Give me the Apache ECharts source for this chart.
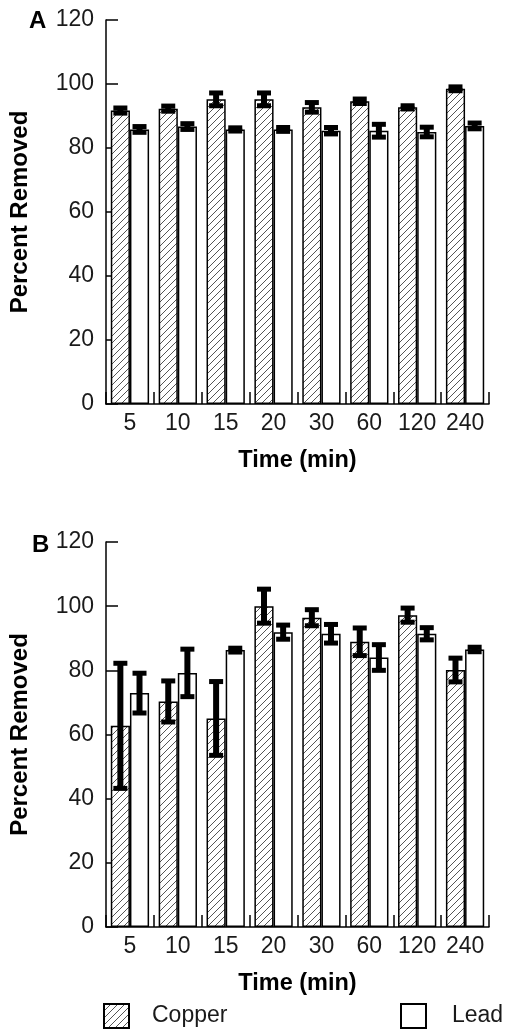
<!DOCTYPE html>
<html>
<head>
<meta charset="utf-8">
<script src="https://cdn.jsdelivr.net/npm/echarts@6/dist/echarts.min.js"></script>
<style>
html,body{margin:0;padding:0;background:#fff;}
#chart{width:515px;height:1034px;}
</style>
</head>
<body>
<div id="chart"></div>
<script>
const categories = ['5', '10', '15', '20', '30', '60', '120', '240'];
const yTickValues = [0, 20, 40, 60, 80, 100, 120];

const copperA = [91.7, 92.3, 95.2, 95.2, 92.7, 94.6, 92.7, 98.5];
const copperAErr = [0.8, 0.8, 2.0, 2.0, 1.5, 0.7, 0.5, 0.6];
const leadA = [85.8, 86.7, 85.8, 85.8, 85.4, 85.4, 85.0, 86.9];
const leadAErr = [0.9, 0.9, 0.5, 0.6, 1.0, 2.0, 1.5, 0.9];

const copperB = [62.7, 70.3, 65.0, 100.0, 96.4, 88.9, 97.2, 80.1];
const copperBErr = [19.5, 6.4, 11.5, 5.3, 2.5, 4.3, 2.2, 3.7];
const leadB = [72.9, 79.2, 86.3, 91.9, 91.4, 84.0, 91.4, 86.5];
const leadBErr = [6.2, 7.4, 0.6, 2.2, 2.9, 4.0, 1.9, 0.7];

function makeHatch() {
  const c = document.createElement('canvas');
  c.width = 7; c.height = 7;
  const ctx = c.getContext('2d');
  ctx.fillStyle = '#ffffff';
  ctx.fillRect(0, 0, 7, 7);
  ctx.strokeStyle = '#555555';
  ctx.lineWidth = 1;
  ctx.beginPath();
  ctx.moveTo(-1, 8); ctx.lineTo(8, -1);
  ctx.moveTo(-1, 1); ctx.lineTo(1, -1);
  ctx.moveTo(6, 8); ctx.lineTo(8, 6);
  ctx.stroke();
  return c;
}
const hatch = { image: makeHatch(), repeat: 'repeat' };

const FONT = 'Liberation Sans, Arial, sans-serif';
const chart = echarts.init(document.getElementById('chart'), null, { renderer: 'canvas' });

function errData(mean, err) {
  return mean.map((m, i) => [i, m - err[i], m + err[i]]);
}

function errSeries(name, gridIdx, data, side) {
  return {
    name: name + ' error',
    type: 'custom',
    xAxisIndex: gridIdx,
    yAxisIndex: gridIdx,
    z: 10,
    silent: true,
    encode: { x: 0, y: [1, 2] },
    data: data,
    renderItem: function (params, api) {
      const idx = api.value(0);
      const band = api.size([1, 0])[0];
      const c = api.coord([idx, 0]);
      const x = c[0] + side * band * 0.2;
      const lo = api.coord([idx, api.value(1)])[1];
      const hi = api.coord([idx, api.value(2)])[1];
      const capW = 14, capT = 5, stemW = 6;
      const style = { fill: '#000' };
      return {
        type: 'group',
        children: [
          { type: 'rect', shape: { x: x - stemW / 2, y: hi, width: stemW, height: lo - hi }, style: style },
          { type: 'rect', shape: { x: x - capW / 2, y: hi - capT / 2, width: capW, height: capT }, style: style },
          { type: 'rect', shape: { x: x - capW / 2, y: lo - capT / 2, width: capW, height: capT }, style: style }
        ]
      };
    }
  };
}

function xAxisDef(gridIdx) {
  return {
    type: 'category',
    gridIndex: gridIdx,
    data: categories,
    boundaryGap: true,
    axisLine: { show: true, lineStyle: { color: '#000', width: 1.5 } },
    axisTick: { show: true, inside: true, length: 12, alignWithLabel: false, lineStyle: { color: '#000', width: 1.5 } },
    axisLabel: { color: '#1a1a1a', fontSize: 23, fontFamily: FONT, margin: 8, interval: 0 },
    name: 'Time (min)',
    nameLocation: 'middle',
    nameGap: 45,
    nameTextStyle: { color: '#000', fontSize: 23.5, fontWeight: 'bold', fontFamily: FONT },
    splitLine: { show: false }
  };
}

function yAxisDef(gridIdx) {
  return {
    type: 'value',
    gridIndex: gridIdx,
    min: yTickValues[0],
    max: yTickValues[yTickValues.length - 1],
    interval: 20,
    axisLine: { show: true, lineStyle: { color: '#000', width: 1.5 } },
    axisTick: { show: true, inside: true, length: 12, lineStyle: { color: '#000', width: 1.5 } },
    axisLabel: { color: '#1a1a1a', fontSize: 23, fontFamily: FONT, margin: 12 },
    splitLine: { show: false },
    name: 'Percent Removed',
    nameLocation: 'middle',
    nameGap: 74,
    nameTextStyle: { color: '#000', fontSize: 24, fontWeight: 'bold', fontFamily: FONT }
  };
}

function barSeries(name, gridIdx, data, color) {
  return {
    name: name,
    type: 'bar',
    xAxisIndex: gridIdx,
    yAxisIndex: gridIdx,
    data: data,
    barGap: '0%',
    barCategoryGap: '20%',
    itemStyle: { color: color, borderColor: '#000', borderWidth: 1.5 },
    emphasis: { disabled: true },
    z: 2
  };
}

const option = {
  backgroundColor: '#ffffff',
  animation: false,
  title: [
    { text: 'A', left: 24, top: 4, textStyle: { fontSize: 24, fontWeight: 'bold', color: '#000', fontFamily: FONT } },
    { text: 'B', left: 27, top: 528, textStyle: { fontSize: 24, fontWeight: 'bold', color: '#000', fontFamily: FONT } }
  ],
  legend: [
    {
      data: [{ name: 'Copper', icon: 'rect' }], left: 98, top: 998, itemWidth: 25, itemHeight: 24, selectedMode: false,
      textStyle: { fontSize: 23, color: '#1a1a1a', fontFamily: FONT, padding: [0, 0, 0, 18] }
    },
    {
      data: [{ name: 'Lead', icon: 'rect' }], left: 395, top: 998, itemWidth: 25, itemHeight: 24, selectedMode: false,
      textStyle: { fontSize: 23, color: '#1a1a1a', fontFamily: FONT, padding: [0, 0, 0, 21] }
    }
  ],
  grid: [
    { left: 105, width: 384, top: 20, height: 384 },
    { left: 105, width: 384, top: 542, height: 385 }
  ],
  xAxis: [xAxisDef(0), xAxisDef(1)],
  yAxis: [yAxisDef(0), yAxisDef(1)],
  series: [
    barSeries('Copper', 0, copperA, hatch),
    barSeries('Lead', 0, leadA, '#ffffff'),
    errSeries('Copper', 0, errData(copperA, copperAErr), -1),
    errSeries('Lead', 0, errData(leadA, leadAErr), 1),
    barSeries('Copper', 1, copperB, hatch),
    barSeries('Lead', 1, leadB, '#ffffff'),
    errSeries('Copper', 1, errData(copperB, copperBErr), -1),
    errSeries('Lead', 1, errData(leadB, leadBErr), 1)
  ]
};
chart.setOption(option);
</script>
</body>
</html>
